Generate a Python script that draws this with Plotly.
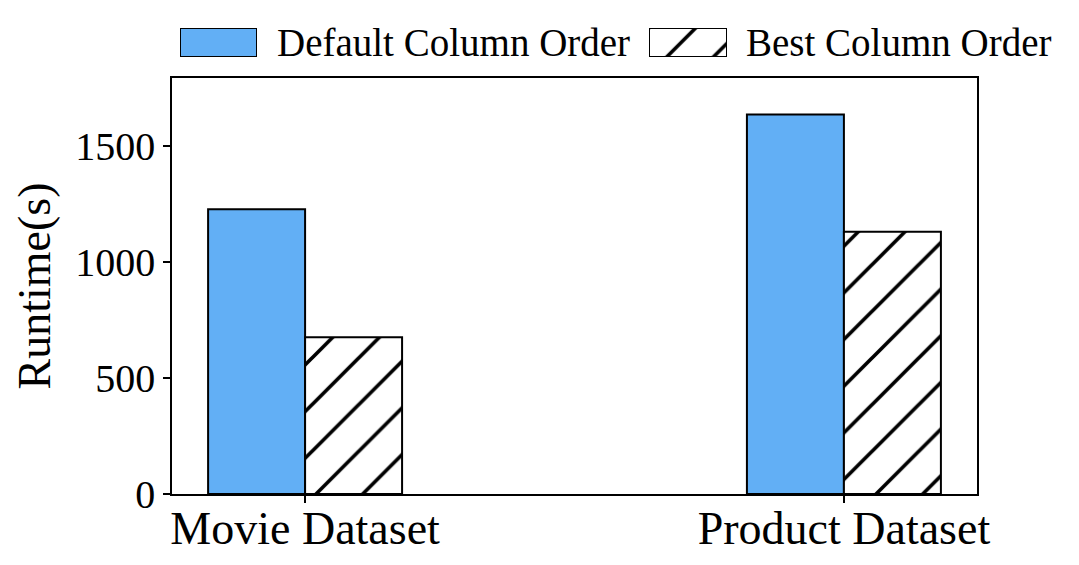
import plotly.graph_objects as go

categories = ["Movie Dataset", "Product Dataset"]
default_order = [1229, 1638]
best_order = [676, 1132]
series_names = ["Default Column Order", "Best Column Order"]
y_ticks = [0, 500, 1000, 1500]

BLUE = "#62aff5"
FONT = "Liberation Serif"
W, H = 1079, 565
ML, MR, MB = 172, 102, 71
plot_h = H - MB  # paper height (t=0)
main_top = 416 / plot_h

hatch = dict(shape="/", fgcolor="black", bgcolor="white", size=33, solidity=0.11, fillmode="replace")

fig = go.Figure()
fig.add_trace(go.Bar(x=categories, y=default_order, name=series_names[0],
                     marker=dict(color=BLUE, line=dict(color="black", width=2)),
                     showlegend=False))
fig.add_trace(go.Bar(x=categories, y=best_order, name=series_names[1],
                     marker=dict(color="white", pattern=hatch, line=dict(color="black", width=2)),
                     showlegend=False))

# legend swatches drawn as bars on small helper axes
fig.add_trace(go.Bar(x=[0], y=[1], width=[1], xaxis="x2", yaxis="y2", showlegend=False,
                     hoverinfo="skip",
                     marker=dict(color=BLUE, line=dict(color="black", width=2))))
fig.add_trace(go.Bar(x=[0], y=[1], width=[1], xaxis="x3", yaxis="y2", showlegend=False,
                     hoverinfo="skip",
                     marker=dict(color="white", pattern=hatch,
                                 line=dict(color="black", width=2))))

pw = W - ML - MR
def px(x):
    return (x - ML) / pw
def py(y):
    return (plot_h - y) / plot_h

axis_hidden = dict(visible=False, fixedrange=True)
fig.update_layout(
    width=W, height=H,
    margin=dict(l=ML, r=MR, t=0, b=MB),
    plot_bgcolor="white", paper_bgcolor="white",
    barmode="group", bargap=0.64, bargroupgap=0,
    font=dict(family=FONT, color="black"),
    xaxis=dict(domain=[0, 1], range=[-0.247, 1.247], showline=True, linecolor="black", linewidth=1.5,
               mirror=True, ticks="outside", ticklen=7, tickwidth=1.5, tickcolor="black",
               tickfont=dict(family=FONT, size=46), showgrid=False, zeroline=False,
               ticklabelstandoff=-14),
    yaxis=dict(domain=[0, main_top], range=[0, 1795], tickvals=y_ticks, showline=True, linecolor="black",
               linewidth=1.5, mirror=True, ticks="outside", ticklen=7, tickwidth=1.5, tickcolor="black",
               tickfont=dict(family=FONT, size=40), showgrid=False, zeroline=False,
               title=dict(text="Runtime(s)", font=dict(family=FONT, size=46), standoff=10)),
    xaxis2=dict(domain=[px(180), px(257)], range=[-0.5, 0.5], anchor="y2", **axis_hidden),
    xaxis3=dict(domain=[px(649), px(727)], range=[-0.5, 0.5], anchor="y2", **axis_hidden),
    yaxis2=dict(domain=[py(57), py(28)], range=[0, 1], anchor="x2", **axis_hidden),
    annotations=[
        dict(text=series_names[0], x=px(275), y=py(43), xref="paper", yref="paper",
             xanchor="left", yanchor="middle", showarrow=False, font=dict(family=FONT, size=39)),
        dict(text=series_names[1], x=px(744), y=py(43), xref="paper", yref="paper",
             xanchor="left", yanchor="middle", showarrow=False, font=dict(family=FONT, size=39)),
    ],
)

fig.write_html("out.html")
